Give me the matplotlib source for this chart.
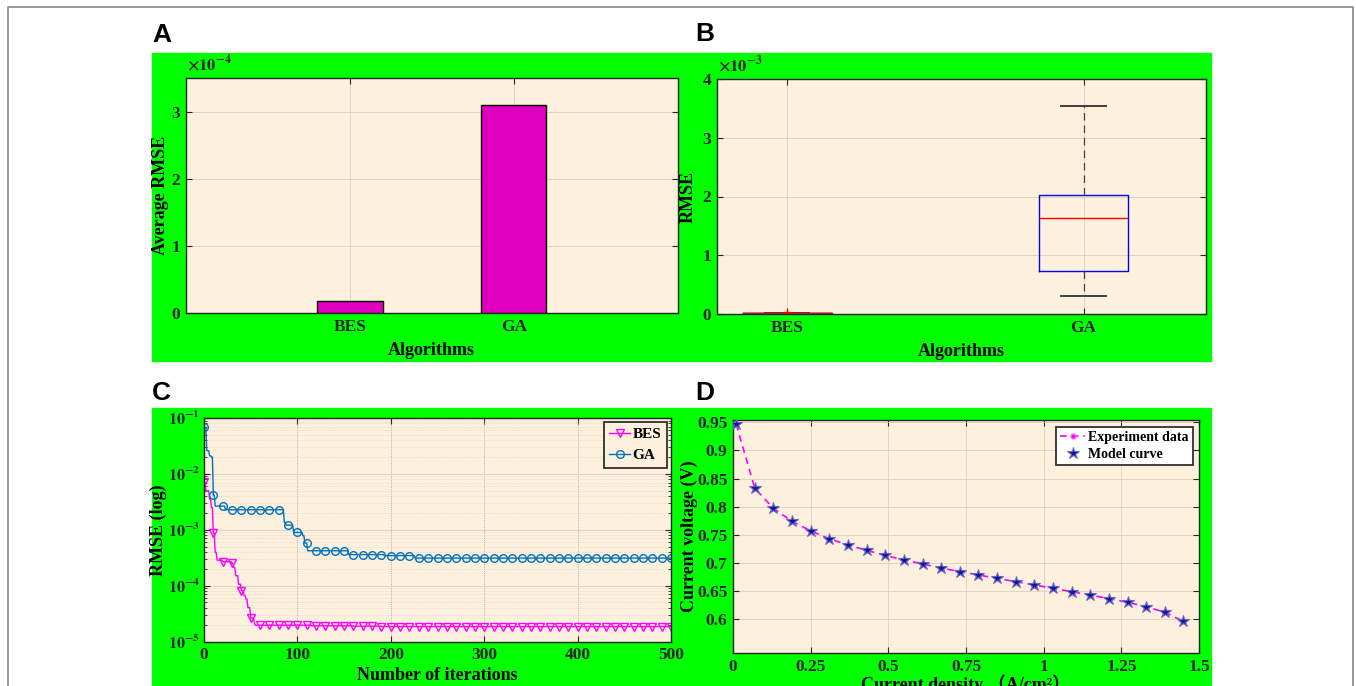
import numpy as np
import matplotlib
matplotlib.use("Agg")
import matplotlib.pyplot as plt
from matplotlib.patches import Rectangle
from matplotlib.lines import Line2D
from matplotlib.ticker import FuncFormatter, FixedLocator, LogLocator, NullFormatter

plt.rcParams['font.family'] = ['Liberation Serif', 'Noto Sans CJK SC', 'DejaVu Sans']
plt.rcParams['font.weight'] = 'bold'
plt.rcParams['axes.labelweight'] = 'bold'
plt.rcParams['mathtext.fontset'] = 'stix'

# ---- data ----
algorithms = ['BES', 'GA']
avg_rmse = [1.8e-5, 3.1e-4]

# box statistics of RMSE over the independent runs
bes_box = dict(whislo=1.72e-5, q1=1.80e-5, med=1.85e-5, q3=1.95e-5, whishi=2.10e-5, fliers=[3.0e-5])
ga_box = dict(whislo=0.30e-3, q1=0.73e-3, med=1.64e-3, q3=2.02e-3, whishi=3.54e-3, fliers=[])

# convergence curves: iteration where each level starts, and the level
n_iter = 500
ga_start = [0, 3, 6, 8, 10, 12, 23, 86, 88, 96, 106, 108, 111, 155, 193, 226]
ga_level = [6.81e-2, 2.60e-2, 2.11e-2, 2.00e-2, 4.17e-3, 2.65e-3, 2.28e-3, 1.35e-3,
            1.21e-3, 8.95e-4, 7.80e-4, 5.75e-4, 4.21e-4, 3.59e-4, 3.45e-4, 3.11e-4]
bes_start = [0, 2, 6, 8, 10, 12, 14, 20, 30, 32, 34, 37, 40, 43, 45, 47, 50, 54, 55, 115, 160, 190]
bes_level = [7.24e-3, 5.0e-3, 3.55e-3, 2.5e-3, 8.6e-4, 3.93e-4, 2.86e-4, 2.69e-4, 2.49e-4,
             2.11e-4, 1.50e-4, 1.06e-4, 8.07e-5, 6.58e-5, 5.73e-5, 4.06e-5, 2.62e-5, 2.10e-5,
             1.96e-5, 1.91e-5, 1.88e-5, 1.85e-5]

# polarization curve
current_density = [0.01, 0.07, 0.13, 0.19, 0.25, 0.31, 0.37, 0.43, 0.49, 0.55, 0.61, 0.67, 0.73,
                   0.79, 0.85, 0.91, 0.97, 1.03, 1.09, 1.15, 1.21, 1.27, 1.33, 1.39, 1.45]
voltage_exp = [0.947, 0.833, 0.797, 0.774, 0.757, 0.743, 0.732, 0.7225, 0.7136, 0.7053, 0.6982,
               0.6911, 0.6846, 0.6787, 0.6727, 0.6668, 0.6609, 0.655, 0.649, 0.6431, 0.6366,
               0.6301, 0.6224, 0.6123, 0.5963]
voltage_model = [0.947, 0.833, 0.797, 0.774, 0.757, 0.743, 0.732, 0.7225, 0.7136, 0.7053, 0.6982,
                 0.6911, 0.6846, 0.6787, 0.6727, 0.6668, 0.6609, 0.655, 0.649, 0.6431, 0.6366,
                 0.6301, 0.6224, 0.6123, 0.5963]

W, H = 1356, 686
GREEN = '#00ff00'
BEIGE = '#fdf0dc'
GRID = '#dcd0bd'
INK = '#262626'


def px_box(l, t, r, b):
    return [l / W, 1 - b / H, (r - l) / W, (b - t) / H]


def expand(start, level, n):
    counts = np.diff(start + [n + 1])
    return np.repeat(level, counts)


def style_axes(ax):
    ax.set_facecolor(BEIGE)
    for s in ax.spines.values():
        s.set_color(INK)
        s.set_linewidth(1.0)
    ax.tick_params(direction='in', length=4.5, width=0.8, top=True, right=True,
                   colors=INK, labelsize=12.5, pad=4)
    ax.set_axisbelow(True)


def sci_label(ax, text):
    ax.annotate(text, xy=(0, 1), xycoords='axes fraction', xytext=(1, 3),
                textcoords='offset points', ha='left', va='bottom',
                fontsize=12, fontweight='normal', color=INK)


def place_labels(ax, xl_y, yl_x):
    ax.xaxis.set_label_coords(0.5, xl_y)
    ax.yaxis.set_label_coords(yl_x, 0.5)


fig = plt.figure(figsize=(W / 100, H / 100), dpi=100)
fig.patch.set_facecolor('white')

# green panels behind the axes
fig.add_artist(Rectangle((152 / W, 1 - 361 / H), (1211 - 152) / W, (361 - 53) / H,
                         transform=fig.transFigure, color=GREEN, zorder=-5))
fig.add_artist(Rectangle((152 / W, 0), (1211 - 152) / W, (686 - 407.5) / H,
                         transform=fig.transFigure, color=GREEN, zorder=-5))
# thin page frame
fig.add_artist(Line2D([8 / W, 8 / W, 1353 / W, 1353 / W], [0, 1 - 6.7 / H, 1 - 6.7 / H, 0],
                      transform=fig.transFigure, color='#888888', lw=1.2))

for txt, x, y in [('A', 152, 41.5), ('B', 695, 41), ('C', 152, 400), ('D', 695, 400)]:
    fig.text(x / W, 1 - y / H, txt, family='Liberation Sans', fontweight='bold',
             fontsize=19, va='baseline', ha='left')

# A: average RMSE
axA = fig.add_axes(px_box(186, 78, 677.5, 313))
style_axes(axA)
axA.bar([1, 2], avg_rmse, width=0.4, color='#df00bf', edgecolor='black', linewidth=1.0, zorder=3)
axA.set_xlim(0, 3)
axA.set_ylim(0, 3.5e-4)
axA.set_xticks([1, 2])
axA.set_xticklabels(algorithms)
axA.set_yticks([0, 1e-4, 2e-4, 3e-4])
axA.yaxis.set_major_formatter(FuncFormatter(lambda v, p: f'{v / 1e-4:g}'))
axA.grid(True, color=GRID, lw=0.6)
axA.set_xlabel('Algorithms', fontsize=13)
axA.set_ylabel('Average RMSE', fontsize=13)
place_labels(axA, -0.122, -0.035)
sci_label(axA, r'$\times10^{-4}$')

# B: RMSE distribution
axB = fig.add_axes(px_box(717, 79, 1206, 314))
style_axes(axB)
axB.bxp([bes_box, ga_box], positions=[1, 2], widths=0.3, showfliers=True,
        boxprops=dict(color='blue', lw=1.0),
        medianprops=dict(color='red', lw=1.0),
        whiskerprops=dict(color='#404040', lw=0.9, linestyle=(0, (6, 4))),
        capprops=dict(color='#404040', lw=1.4),
        flierprops=dict(marker='+', markeredgecolor='red', markersize=4))
axB.set_xlim(0.763, 2.413)
axB.set_ylim(0, 4e-3)
axB.set_xticks([1, 2])
axB.set_xticklabels(algorithms)
axB.set_yticks([0, 1e-3, 2e-3, 3e-3, 4e-3])
axB.yaxis.set_major_formatter(FuncFormatter(lambda v, p: f'{v / 1e-3:g}'))
axB.grid(True, color=GRID, lw=0.6)
axB.set_xlabel('Algorithms', fontsize=13)
axB.set_ylabel('RMSE', fontsize=13)
place_labels(axB, -0.122, -0.041)
sci_label(axB, r'$\times10^{-3}$')

# C: convergence
it = np.arange(n_iter + 1)
ga_curve = expand(ga_start, ga_level, n_iter)
bes_curve = expand(bes_start, bes_level, n_iter)
axC = fig.add_axes(px_box(204, 418, 671, 641.5))
style_axes(axC)
axC.semilogy(it, bes_curve, color='#ff00ff', lw=1.0, marker='v', mfc='none', ms=5.5,
             mew=1.0, markevery=10, label='BES')
axC.semilogy(it, ga_curve, color='#0072bd', lw=1.0, marker='o', mfc='none', ms=5.5,
             mew=1.0, markevery=10, label='GA')
axC.set_xlim(0, 500)
axC.set_ylim(1e-5, 1e-1)
axC.set_xticks([0, 100, 200, 300, 400, 500])
axC.yaxis.set_major_locator(FixedLocator([1e-5, 1e-4, 1e-3, 1e-2, 1e-1]))
axC.yaxis.set_major_formatter(FuncFormatter(
    lambda v, p: r'$\mathbf{10^{%d}}$' % int(round(np.log10(v)))))
axC.yaxis.set_minor_locator(LogLocator(base=10, subs=np.arange(2, 10), numticks=20))
axC.yaxis.set_minor_formatter(NullFormatter())
axC.tick_params(axis='y', pad=3, labelsize=11.5)
axC.tick_params(which='minor', direction='in', length=2.5, width=0.6, right=True, colors=INK)
axC.grid(True, which='major', axis='y', color=GRID, lw=0.6)
axC.grid(True, which='minor', axis='y', color=GRID, lw=0.5, linestyle=':')
axC.grid(True, which='major', axis='x', color='#9a948a', lw=0.6, linestyle=':')
axC.set_xlabel('Number of iterations', fontsize=13)
axC.set_ylabel('RMSE (log)', fontsize=13)
place_labels(axC, -0.115, -0.079)
legC = axC.legend(loc='upper right', bbox_to_anchor=(0.991, 0.982), borderaxespad=0,
                  fontsize=11, handlelength=1.4, handletextpad=0.15, borderpad=0.35,
                  labelspacing=0.5, fancybox=False, framealpha=1)
legC.get_frame().set_edgecolor('#303030')
legC.get_frame().set_linewidth(1.3)
legC.get_frame().set_facecolor(BEIGE)

# D: polarization curve
axD = fig.add_axes(px_box(733, 419.5, 1199, 653))
style_axes(axD)
axD.plot(current_density, voltage_exp, color='#ff00ff', lw=1.2, linestyle=(0, (4, 3)),
         marker='o', ms=3.5, mfc='#ff00ff', mec='#ff66ff', label='Experiment data', zorder=3)
axD.plot(current_density, voltage_model, linestyle='none', marker='*', ms=9,
         mfc='#0d1a8c', mec='#6b63c9', mew=0.8, label='Model curve', zorder=4)
axD.set_xlim(0, 1.5)
axD.set_ylim(0.54, 0.955)
axD.set_xticks([0, 0.25, 0.5, 0.75, 1, 1.25, 1.5])
axD.set_xticklabels(['0', '0.25', '0.5', '0.75', '1', '1.25', '1.5'])
axD.set_yticks([0.6, 0.65, 0.7, 0.75, 0.8, 0.85, 0.9, 0.95])
axD.set_yticklabels(['0.6', '0.65', '0.7', '0.75', '0.8', '0.85', '0.9', '0.95'])
axD.grid(True, color=GRID, lw=0.6)
axD.set_xlabel('Current density \uff08A/cm\u00b2\uff09', fontsize=13)
axD.set_ylabel('Current voltage (V)', fontsize=13)
place_labels(axD, -0.094, -0.075)
legD = axD.legend(loc='upper right', bbox_to_anchor=(0.987, 0.968), borderaxespad=0,
                  fontsize=10, handlelength=1.8, handletextpad=0.2, borderpad=0.3,
                  labelspacing=0.3, fancybox=False, framealpha=1)
legD.get_frame().set_edgecolor('#303030')
legD.get_frame().set_linewidth(1.3)
legD.get_frame().set_facecolor('white')

fig.savefig('out.png', dpi=100)
